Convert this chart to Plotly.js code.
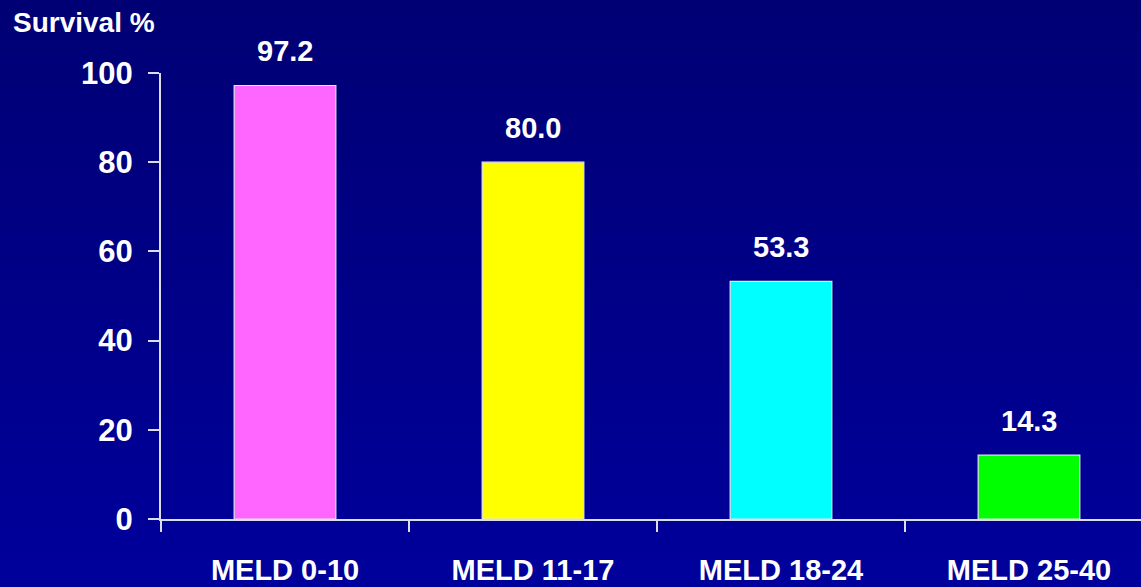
<!DOCTYPE html>
<html>
<head>
<meta charset="utf-8">
<script src="https://cdn.plot.ly/plotly-3.0.1.min.js"></script>
<style>
  html, body { margin: 0; padding: 0; }
  body { width: 1141px; height: 587px; overflow: hidden;
         background: linear-gradient(to bottom, #000074 0%, #000088 50%, #00009C 100%); }
  #chart { width: 1141px; height: 587px; }
</style>
</head>
<body>
<div id="chart"></div>
<script>
// Survival by MELD score group
const categories = ["MELD 0-10", "MELD 11-17", "MELD 18-24", "MELD 25-40"];
const survival = [97.2, 80.0, 53.3, 14.3];
const barColors = ["#FF66FF", "#FFFF00", "#00FFFF", "#00FF00"];
const yTicks = [0, 20, 40, 60, 80, 100];

const FONT = "Liberation Sans, Arial, Helvetica, sans-serif";
const AXIS_COLOR = "#DCDCEA";

const trace = {
  type: "bar",
  x: categories,
  y: survival,
  width: 0.41,
  marker: { color: barColors, line: { color: "#E4E4EE", width: 1.2 } },
  hoverinfo: "x+y"
};

// value labels above each bar
const valueLabels = categories.map((c, i) => ({
  x: c, y: survival[i], xref: "x", yref: "y",
  text: survival[i].toFixed(1),
  showarrow: false, yanchor: "middle", yshift: 34,
  font: { family: FONT, size: 29, color: "#FFFFFF", weight: "bold" }
}));

const layout = {
  width: 1141, height: 587,
  margin: { l: 161, r: 0, t: 73, b: 68, pad: 0 },
  paper_bgcolor: "rgba(0,0,0,0)",
  plot_bgcolor: "rgba(0,0,0,0)",
  showlegend: false,
  bargap: 0.59,
  title: {
    text: "<b>Survival %</b>",
    x: 13 / 1141, xanchor: "left", xref: "container",
    y: 1 - 22 / 587, yanchor: "middle", yref: "container",
    font: { family: FONT, size: 28, color: "#FFFFFF" }
  },
  xaxis: {
    type: "category",
    range: [-0.5, 3.4516],
    showline: true, linecolor: AXIS_COLOR, linewidth: 2,
    ticks: "outside", tickson: "boundaries", ticklen: 11, tickwidth: 2, tickcolor: AXIS_COLOR,
    ticklabelstandoff: 24,
    tickfont: { family: FONT, size: 29, color: "#FFFFFF", weight: "bold" },
    showgrid: false, zeroline: false, fixedrange: true
  },
  yaxis: {
    range: [0, 100],
    tickvals: yTicks,
    ticktext: yTicks.map(String),
    showline: true, linecolor: AXIS_COLOR, linewidth: 2,
    ticks: "outside", ticklen: 11, tickwidth: 2, tickcolor: AXIS_COLOR,
    ticklabelstandoff: 9,
    tickfont: { family: FONT, size: 31, color: "#FFFFFF", weight: "bold" },
    showgrid: false, zeroline: false, fixedrange: true
  },
  annotations: valueLabels
};

Plotly.newPlot("chart", [trace], layout, { displayModeBar: false, staticPlot: true });
</script>
</body>
</html>
